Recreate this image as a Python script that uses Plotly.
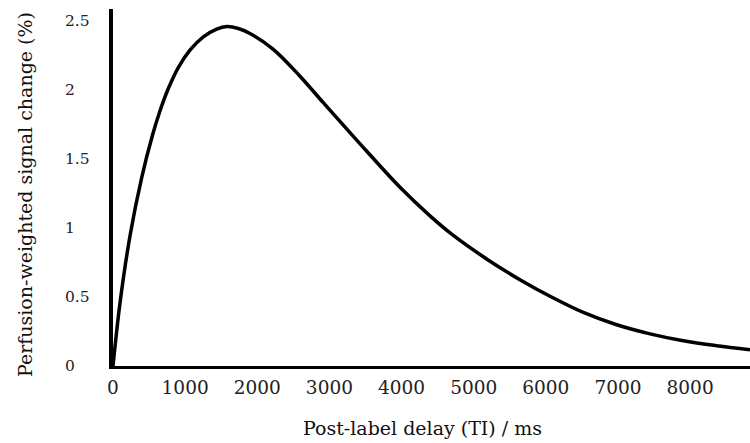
import plotly.graph_objects as go

# Post-label delay (ms) and perfusion-weighted signal change (%)
delay_ms = [0, 97, 236, 398, 550, 652, 767, 905, 1067, 1252, 1437, 1576, 1737, 1899,
            2222, 2592, 2915, 3239, 3521, 3978, 4394, 4713, 5184, 5641, 6058, 6519,
            6982, 7444, 7905, 8368, 8830]
signal_pct = [0.0, 0.457, 0.944, 1.365, 1.677, 1.850, 2.011, 2.163, 2.289, 2.385,
              2.441, 2.460, 2.446, 2.410, 2.295, 2.100, 1.908, 1.718, 1.554, 1.295,
              1.088, 0.948, 0.774, 0.625, 0.505, 0.388, 0.299, 0.233, 0.183, 0.147,
              0.118]

x_ticks = [0, 1000, 2000, 3000, 4000, 5000, 6000, 7000, 8000]
x_tick_labels = ["0", "1000", "2000", "3000", "4000", "5000", "6000", "7000", "8000"]
y_ticks = [0, 0.5, 1, 1.5, 2, 2.5]
y_tick_labels = ["0", "0.5", "1", "1.5", "2", "2.5"]

x_title = "Post-label delay (TI) / ms"
y_title = "Perfusion-weighted signal change (%)"

FONT = "DejaVu Serif"

fig = go.Figure()
fig.add_trace(go.Scatter(
    x=delay_ms, y=signal_pct, mode="lines",
    line=dict(color="black", width=3.5, shape="spline", smoothing=1.0),
    hoverinfo="skip", showlegend=False,
))

annotations = []
for v, t in zip(y_ticks, y_tick_labels):
    annotations.append(dict(
        x=-50 / 637, xref="paper", y=v, yref="y", text=t, showarrow=False,
        xanchor="left", yanchor="middle", font=dict(family=FONT, size=15.5, color="#222"),
    ))
annotations.append(dict(
    x=(25 - 113) / 637, xref="paper", y=(366 - 195) / 357, yref="paper",
    text=y_title, textangle=-90, showarrow=False, xanchor="center", yanchor="middle",
    font=dict(family=FONT, size=19, color="#111"),
))
annotations.append(dict(
    x=(422.5 - 113) / 637, xref="paper", y=-(428 - 366) / 357, yref="paper",
    text=x_title, showarrow=False, xanchor="center", yanchor="middle",
    font=dict(family=FONT, size=19, color="#111"),
))

fig.update_layout(
    width=750, height=443,
    margin=dict(l=113, r=0, t=9, b=77),
    paper_bgcolor="white", plot_bgcolor="white",
    font=dict(family=FONT),
    annotations=annotations,
    xaxis=dict(
        range=[0, 8830], tickvals=x_ticks, ticktext=x_tick_labels,
        showgrid=False, zeroline=False, showline=True, linecolor="black", linewidth=2.5,
        ticks="", tickfont=dict(family=FONT, size=18.5, color="#222"),
        ticklabelstandoff=3,
    ),
    yaxis=dict(
        range=[0, 2.587], tickvals=y_ticks, showticklabels=False,
        showgrid=False, zeroline=False, showline=True, linecolor="black", linewidth=4,
        ticks="",
    ),
)

fig.write_html("out.html")
